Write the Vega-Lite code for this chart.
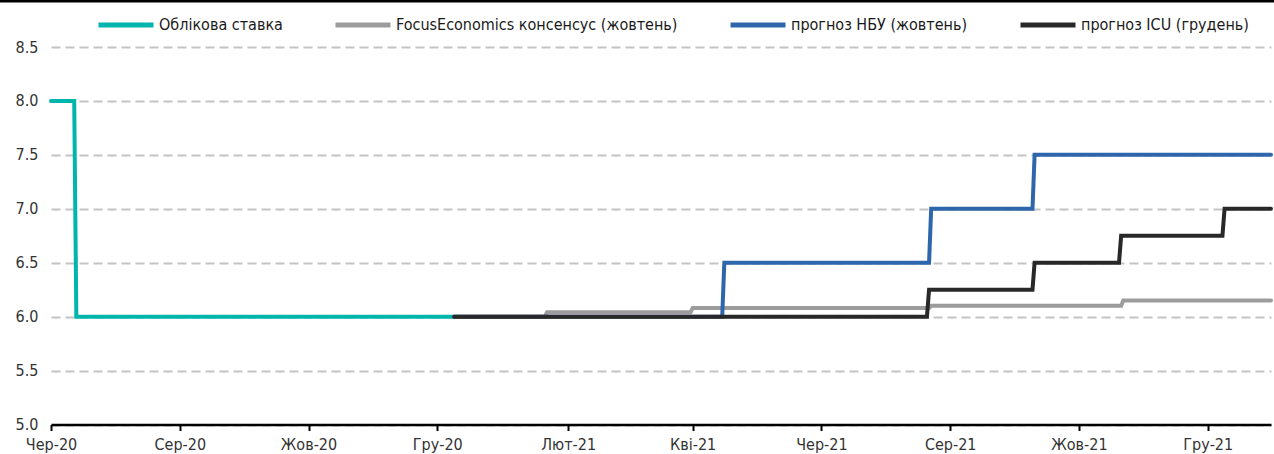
{
  "$schema": "https://vega.github.io/schema/vega-lite/v6.json",
  "width": 1220,
  "height": 377.5,
  "autosize": {"type": "none"},
  "padding": {"left": 51, "top": 47, "right": 3, "bottom": 29.5},
  "background": "white",
  "config": {
    "view": {"stroke": null},
    "font": "DejaVu Sans Condensed",
    "axis": {"labelFont": "DejaVu Sans Condensed", "labelFontSize": 16, "labelColor": "#333333"},
    "legend": {"labelFont": "DejaVu Sans Condensed"}
  },
  "layer": [
    {
      "data": {
        "values": [
          {"series": "Облікова ставка", "date": "2020-06-01", "rate": 8.0},
          {"series": "Облікова ставка", "date": "2020-06-12", "rate": 8.0},
          {"series": "Облікова ставка", "date": "2020-06-13", "rate": 6.0},
          {"series": "Облікова ставка", "date": "2020-12-09", "rate": 6.0},

          {"series": "FocusEconomics консенсус (жовтень)", "date": "2020-12-09", "rate": 6.0},
          {"series": "FocusEconomics консенсус (жовтень)", "date": "2021-01-21", "rate": 6.0},
          {"series": "FocusEconomics консенсус (жовтень)", "date": "2021-01-22", "rate": 6.04},
          {"series": "FocusEconomics консенсус (жовтень)", "date": "2021-03-31", "rate": 6.04},
          {"series": "FocusEconomics консенсус (жовтень)", "date": "2021-04-01", "rate": 6.08},
          {"series": "FocusEconomics консенсус (жовтень)", "date": "2021-07-22", "rate": 6.08},
          {"series": "FocusEconomics консенсус (жовтень)", "date": "2021-07-23", "rate": 6.10},
          {"series": "FocusEconomics консенсус (жовтень)", "date": "2021-10-21", "rate": 6.10},
          {"series": "FocusEconomics консенсус (жовтень)", "date": "2021-10-22", "rate": 6.15},
          {"series": "FocusEconomics консенсус (жовтень)", "date": "2021-12-31", "rate": 6.15},

          {"series": "прогноз НБУ (жовтень)", "date": "2020-12-09", "rate": 6.0},
          {"series": "прогноз НБУ (жовтень)", "date": "2021-04-15", "rate": 6.0},
          {"series": "прогноз НБУ (жовтень)", "date": "2021-04-16", "rate": 6.5},
          {"series": "прогноз НБУ (жовтень)", "date": "2021-07-22", "rate": 6.5},
          {"series": "прогноз НБУ (жовтень)", "date": "2021-07-23", "rate": 7.0},
          {"series": "прогноз НБУ (жовтень)", "date": "2021-09-09", "rate": 7.0},
          {"series": "прогноз НБУ (жовтень)", "date": "2021-09-10", "rate": 7.5},
          {"series": "прогноз НБУ (жовтень)", "date": "2021-12-31", "rate": 7.5},

          {"series": "прогноз ICU (грудень)", "date": "2020-12-09", "rate": 6.0},
          {"series": "прогноз ICU (грудень)", "date": "2021-07-21", "rate": 6.0},
          {"series": "прогноз ICU (грудень)", "date": "2021-07-22", "rate": 6.25},
          {"series": "прогноз ICU (грудень)", "date": "2021-09-09", "rate": 6.25},
          {"series": "прогноз ICU (грудень)", "date": "2021-09-10", "rate": 6.5},
          {"series": "прогноз ICU (грудень)", "date": "2021-10-20", "rate": 6.5},
          {"series": "прогноз ICU (грудень)", "date": "2021-10-21", "rate": 6.75},
          {"series": "прогноз ICU (грудень)", "date": "2021-12-08", "rate": 6.75},
          {"series": "прогноз ICU (грудень)", "date": "2021-12-09", "rate": 7.0},
          {"series": "прогноз ICU (грудень)", "date": "2021-12-31", "rate": 7.0}
        ]
      },
      "mark": {"type": "line", "strokeWidth": 4, "strokeCap": "round", "strokeJoin": "miter"},
      "encoding": {
        "x": {
          "field": "date",
          "type": "temporal",
          "scale": {
            "type": "utc",
            "domain": [
              {"year": 2020, "month": 6, "date": 1, "utc": true},
              {"year": 2021, "month": 12, "date": 31, "utc": true}
            ]
          },
          "axis": {
            "title": null,
            "values": [
              {"year": 2020, "month": 6, "date": 1, "utc": true},
              {"year": 2020, "month": 8, "date": 1, "utc": true},
              {"year": 2020, "month": 10, "date": 1, "utc": true},
              {"year": 2020, "month": 12, "date": 1, "utc": true},
              {"year": 2021, "month": 2, "date": 1, "utc": true},
              {"year": 2021, "month": 4, "date": 1, "utc": true},
              {"year": 2021, "month": 6, "date": 1, "utc": true},
              {"year": 2021, "month": 8, "date": 1, "utc": true},
              {"year": 2021, "month": 10, "date": 1, "utc": true},
              {"year": 2021, "month": 12, "date": 1, "utc": true}
            ],
            "labelExpr": "['Січ','Лют','Бер','Кві','Тра','Чер','Лип','Сер','Вер','Жов','Лис','Гру'][utcmonth(datum.value)] + '-' + utcFormat(datum.value, '%y')",
            "domainColor": "black",
            "domainWidth": 2.5,
            "tickColor": "black",
            "tickWidth": 2,
            "tickSize": 6,
            "labelPadding": 6,
            "labelFlush": false,
            "labelOverlap": false,
            "grid": false,
            "zindex": 1
          }
        },
        "y": {
          "field": "rate",
          "type": "quantitative",
          "scale": {"domain": [5, 8.5], "nice": false, "zero": false},
          "axis": {
            "title": null,
            "values": [5, 5.5, 6, 6.5, 7, 7.5, 8, 8.5],
            "format": ".1f",
            "domain": false,
            "ticks": false,
            "labelPadding": 13,
            "grid": true,
            "gridColor": "#c4c4c4",
            "gridWidth": 2,
            "gridDash": [9, 5],
            "zindex": 0
          }
        },
        "color": {
          "field": "series",
          "type": "nominal",
          "scale": {
            "domain": ["Облікова ставка", "FocusEconomics консенсус (жовтень)", "прогноз НБУ (жовтень)", "прогноз ICU (грудень)"],
            "range": ["#00b6ac", "#9c9c9c", "#2e66ac", "#282828"]
          },
          "legend": {
            "title": null,
            "orient": "none",
            "legendX": 45,
            "legendY": -52,
            "direction": "horizontal",
            "symbolType": "stroke",
            "symbolSize": 3025,
            "symbolStrokeWidth": 5,
            "labelFontSize": 16,
            "labelColor": "#1a1a1a",
            "labelOffset": 3,
            "columnPadding": 42,
            "labelLimit": 400
          }
        }
      }
    },
    {
      "data": {"values": [{"edge": "top"}]},
      "mark": {"type": "rule", "color": "black", "strokeWidth": 6, "clip": false},
      "encoding": {
        "y": {"datum": 8.94},
        "x": {"datum": {"year": 2020, "month": 5, "date": 7, "utc": true}, "type": "temporal"},
        "x2": {"datum": {"year": 2022, "month": 1, "date": 2, "utc": true}}
      }
    }
  ]
}
